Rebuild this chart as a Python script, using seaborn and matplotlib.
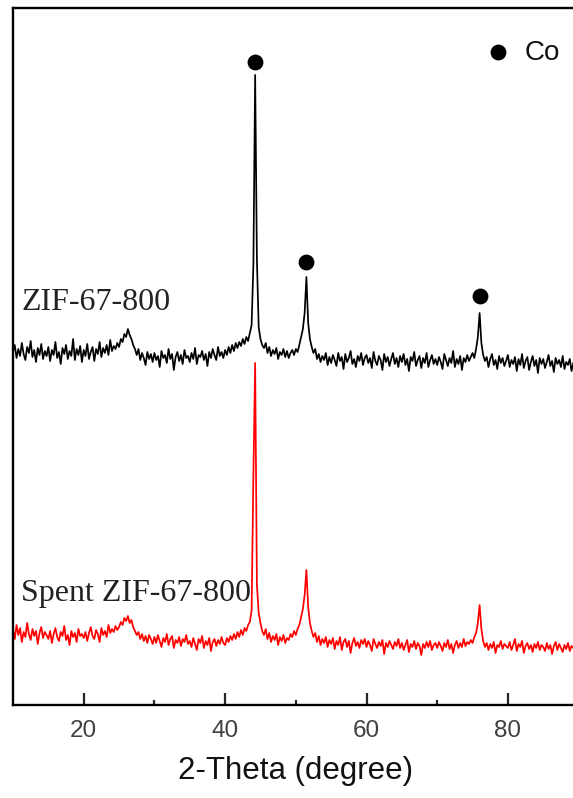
import numpy as np
import pandas as pd
import matplotlib
matplotlib.use("Agg")
import matplotlib.pyplot as plt
import seaborn as sns

# 2-theta grid (degree), step 0.25
two_theta = np.arange(10.0, 90.001, 0.25)

# ZIF-67-800 intensity (arb. units, offset)
zif = [
    353, 360, 347, 356, 349, 362, 351, 345, 358, 352, 364, 348, 355, 343, 357, 350, 361, 346, 354, 349,
    358, 344, 355, 350, 363, 347, 353, 341, 357, 351, 360, 346, 354, 349, 366, 345, 356, 350, 359, 343,
    355, 349, 361, 346, 353, 358, 344, 356, 351, 363, 348, 357, 352, 360, 350, 365, 354, 359, 356, 362,
    358, 366, 363, 371, 368, 376, 370, 366, 360, 356, 350, 356, 345, 352, 347, 340, 353, 346, 351, 343,
    352, 345, 349, 338, 354, 347, 350, 342, 356, 346, 351, 335, 348, 353, 344, 350, 341, 355, 347, 349,
    343, 352, 346, 357, 341, 350, 348, 354, 345, 351, 339, 353, 347, 356, 350, 345, 358, 349, 353, 347,
    355, 350, 358, 352, 360, 354, 362, 357, 363, 359, 366, 361, 368, 364, 372, 380, 440, 630, 445, 378,
    366, 360, 357, 362, 352, 358, 349, 355, 351, 357, 346, 353, 350, 356, 348, 354, 347, 352, 355, 350,
    356, 353, 360, 368, 376, 392, 428, 382, 366, 358, 352, 356, 346, 351, 343, 349, 345, 352, 340, 348,
    342, 350, 345, 339, 352, 344, 348, 336, 351, 343, 347, 354, 341, 346, 338, 349, 344, 352, 340, 347,
    350, 342, 347, 337, 353, 344, 340, 349, 345, 335, 351, 343, 348, 339, 346, 352, 341, 347, 338, 349,
    343, 351, 340, 346, 334, 348, 344, 353, 339, 345, 349, 337, 347, 342, 352, 338, 345, 350, 341, 346,
    340, 348, 343, 336, 351, 345, 339, 347, 342, 354, 338, 346, 341, 349, 335, 347, 343, 350, 344, 348,
    352, 347, 356, 368, 392, 362, 350, 344, 348, 338, 346, 351, 340, 345, 336, 349, 342, 347, 339, 344,
    350, 338, 345, 341, 348, 334, 346, 340, 351, 337, 344, 348, 335, 343, 349, 339, 345, 332, 347, 341,
    346, 337, 343, 350, 339, 344, 333, 347, 341, 345, 338, 349, 336, 343, 340, 346, 334, 342, 347, 339,
    343,
]

# Spent ZIF-67-800 intensity
spent = [
    75, 66, 80, 70, 77, 63, 73, 68, 82, 71, 65, 76, 69, 74, 61, 72, 78, 67, 73, 70,
    66, 74, 62, 71, 77, 68, 64, 73, 69, 79, 65, 70, 60, 74, 68, 72, 63, 76, 69, 71,
    67, 73, 64, 72, 78, 69, 66, 75, 71, 63, 77, 70, 74, 68, 80, 72, 76, 73, 79, 75,
    78, 83, 80, 87, 84, 89, 82, 85, 78, 74, 70, 73, 66, 71, 64, 69, 62, 70, 66, 61,
    68, 62, 70, 64, 58, 67, 63, 71, 60, 66, 69, 57, 65, 62, 68, 59, 66, 63, 70, 61,
    64, 58, 67, 61, 55, 66, 62, 69, 57, 64, 60, 67, 54, 63, 66, 59, 65, 61, 68, 62,
    60, 67, 63, 69, 65, 71, 66, 73, 68, 75, 70, 77, 74, 80, 83, 95, 230, 342, 120, 92,
    82, 74, 70, 76, 66, 72, 63, 69, 65, 71, 60, 68, 64, 70, 62, 67, 65, 71, 68, 74,
    70, 76, 80, 88, 96, 110, 135, 98, 82, 74, 68, 72, 63, 69, 60, 66, 62, 68, 58, 65,
    61, 67, 56, 64, 60, 68, 55, 63, 66, 58, 64, 52, 62, 67, 59, 63, 57, 65, 61, 66,
    58, 64, 60, 54, 66, 61, 57, 63, 59, 65, 51, 62, 58, 64, 60, 56, 63, 59, 66, 57,
    62, 55, 60, 65, 53, 61, 58, 64, 56, 62, 59, 50, 61, 57, 63, 58, 64, 55, 60, 62,
    57, 63, 59, 54, 62, 58, 65, 56, 61, 52, 60, 64, 57, 62, 58, 66, 59, 63, 61, 65,
    62, 68, 72, 82, 100, 76, 64, 58, 62, 55, 61, 57, 63, 52, 60, 58, 64, 56, 61, 59,
    57, 63, 55, 60, 66, 54, 61, 58, 64, 52, 59, 62, 56, 60, 53, 61, 57, 63, 55, 60,
    58, 54, 62, 56, 60, 51, 59, 63, 55, 61, 57, 53, 60, 56, 62, 54, 59, 57, 61, 55,
    58,
]

# Co reflection markers
co_x = [44.25, 51.5, 76.0]
co_y = [643, 443, 409]

x_ticks = [20, 40, 60, 80]
x_label = "2-Theta (degree)"
series_labels = ["ZIF-67-800", "Spent ZIF-67-800"]
legend_label = "Co"

sns.set_style("white")
plt.rcParams["font.family"] = ["Liberation Sans", "DejaVu Sans"]

df = pd.DataFrame({
    "theta": np.concatenate([two_theta, two_theta]),
    "I": np.concatenate([zif, spent]),
    "sample": [series_labels[0]] * len(two_theta) + [series_labels[1]] * len(two_theta),
})

fig = plt.figure(figsize=(5.73, 7.98), dpi=100)
ax = fig.add_axes([13 / 573, 93 / 798, 565.6 / 573, 697 / 798])

sns.lineplot(data=df, x="theta", y="I", hue="sample",
             palette={series_labels[0]: "black", series_labels[1]: "#ff0000"},
             linewidth=1.25, legend=False, ax=ax, estimator=None, sort=False)

ax.scatter(co_x, co_y, s=130, color="black", zorder=5, linewidths=0)
ax.scatter([78.6], [653], s=130, color="black", zorder=5, linewidths=0, clip_on=False)
ax.text(82.4, 652, legend_label, fontsize=20, color="#111111", va="center", ha="left",
        family=["Liberation Sans"])

ax.text(11.2, 403, series_labels[0], fontsize=23, color="#222222", va="center", ha="left",
        family=["Liberation Serif"])
ax.text(11.2, 112, series_labels[1], fontsize=23, color="#222222", va="center", ha="left",
        family=["Liberation Serif"])

ax.set_xlim(10, 90)
ax.set_ylim(0, 697)
ax.set_xticks(x_ticks)
ax.set_xticks([30, 50, 70], minor=True)
ax.set_yticks([])
ax.tick_params(axis="x", which="major", direction="in", length=8.5, width=1.6,
               labelsize=17.5, labelcolor="#404040", pad=11, bottom=True)
ax.tick_params(axis="x", which="minor", direction="in", length=3.8, width=1.6, bottom=True)
ax.set_xlabel(x_label, fontsize=22.5, color="#111111", labelpad=10)
ax.set_ylabel("")
for s in ax.spines.values():
    s.set_linewidth(1.7)
    s.set_color("black")

fig.savefig("out.png", dpi=100)
